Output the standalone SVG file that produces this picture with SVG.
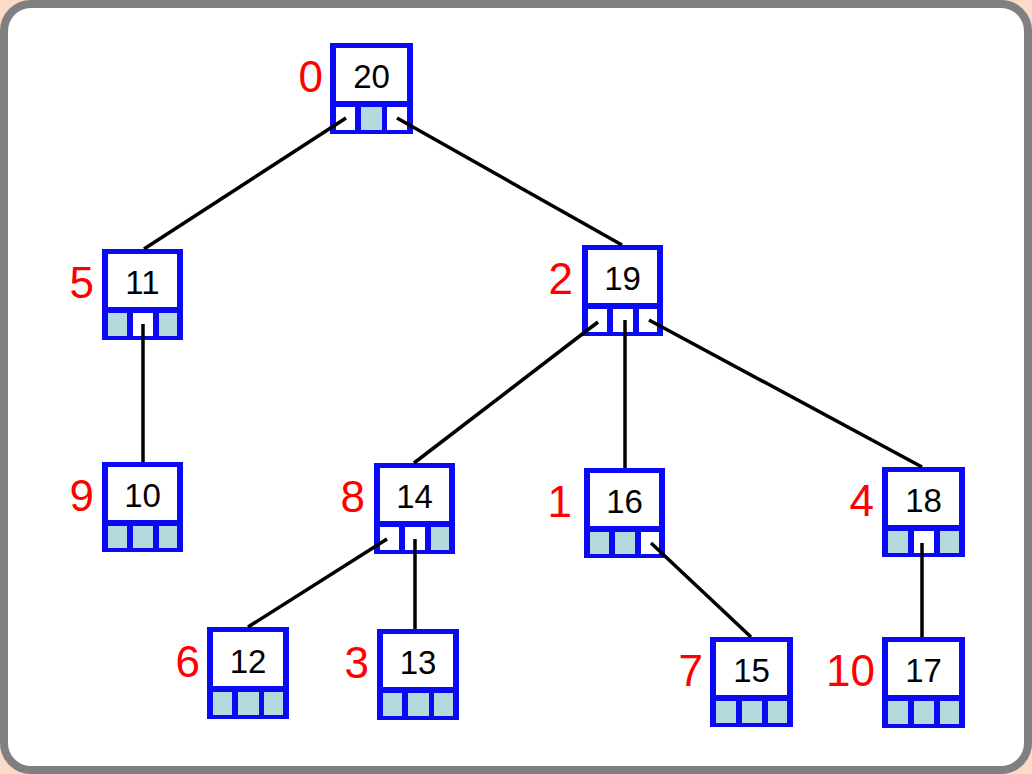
<svg xmlns="http://www.w3.org/2000/svg" width="1032" height="774" viewBox="0 0 1032 774">
<style>
.frame{fill:#ffffff;stroke:#808080;stroke-width:8}
.box{fill:#0a0af5}
.top{fill:#ffffff}
.on{fill:#b5d9dc}
.off{fill:#ffffff}
.num{font-family:"Liberation Sans",Arial,sans-serif;font-size:33px;fill:#000;text-anchor:middle}
.lbl{font-family:"Liberation Sans",Arial,sans-serif;font-size:44px;fill:#ff0000;text-anchor:end}
#edges line{stroke:#000;stroke-width:3.5;stroke-linecap:butt}
</style>
<rect x="0" y="0" width="1032" height="774" fill="#fbdac8"/>
<rect class="frame" x="4" y="4" width="1024" height="766" rx="27"/>
<g id="n20" transform="translate(330,43)">
<rect class="box" width="83" height="91"/><rect class="top" x="6" y="5" width="71" height="53"/>
<rect class="off" x="6" y="64" width="19" height="23"/><rect class="on" x="31" y="64" width="21" height="23"/><rect class="off" x="57" y="64" width="20" height="23"/>
<text class="num" x="41.5" y="45">20</text><text class="lbl" x="-7" y="49">0</text>
</g>
<g id="n11" transform="translate(102,249)">
<rect class="box" width="81" height="91"/><rect class="top" x="6" y="5" width="69" height="53"/>
<rect class="on" x="6" y="64" width="19" height="23"/><rect class="off" x="31" y="64" width="20" height="23"/><rect class="on" x="57" y="64" width="18" height="23"/>
<text class="num" x="40.5" y="45">11</text><text class="lbl" x="-8" y="49">5</text>
</g>
<g id="n19" transform="translate(582,245)">
<rect class="box" width="81" height="91"/><rect class="top" x="6" y="5" width="69" height="53"/>
<rect class="off" x="6" y="64" width="19" height="23"/><rect class="off" x="31" y="64" width="20" height="23"/><rect class="off" x="57" y="64" width="18" height="23"/>
<text class="num" x="40.5" y="45">19</text><text class="lbl" x="-9" y="49">2</text>
</g>
<g id="n10" transform="translate(102,462)">
<rect class="box" width="81" height="90"/><rect class="top" x="6" y="5" width="69" height="53"/>
<rect class="on" x="6" y="64" width="19" height="22"/><rect class="on" x="31" y="64" width="20" height="22"/><rect class="on" x="57" y="64" width="18" height="22"/>
<text class="num" x="40.5" y="45">10</text><text class="lbl" x="-8" y="49">9</text>
</g>
<g id="n14" transform="translate(374,463)">
<rect class="box" width="81" height="91"/><rect class="top" x="6" y="5" width="69" height="53"/>
<rect class="off" x="6" y="64" width="19" height="23"/><rect class="off" x="31" y="64" width="20" height="23"/><rect class="on" x="57" y="64" width="18" height="23"/>
<text class="num" x="40.5" y="45">14</text><text class="lbl" x="-9" y="49">8</text>
</g>
<g id="n16" transform="translate(584,468)">
<rect class="box" width="81" height="90"/><rect class="top" x="6" y="5" width="69" height="53"/>
<rect class="on" x="6" y="64" width="19" height="22"/><rect class="on" x="31" y="64" width="20" height="22"/><rect class="off" x="57" y="64" width="18" height="22"/>
<text class="num" x="40.5" y="45">16</text><text class="lbl" x="-12" y="49">1</text>
</g>
<g id="n18" transform="translate(882,467)">
<rect class="box" width="83" height="90"/><rect class="top" x="6" y="5" width="71" height="53"/>
<rect class="on" x="6" y="64" width="20" height="22"/><rect class="off" x="32" y="64" width="20" height="22"/><rect class="on" x="58" y="64" width="19" height="22"/>
<text class="num" x="41.5" y="45">18</text><text class="lbl" x="-8" y="49">4</text>
</g>
<g id="n12" transform="translate(207,627)">
<rect class="box" width="82" height="92"/><rect class="top" x="6" y="5" width="70" height="54"/>
<rect class="on" x="6" y="65" width="19" height="23"/><rect class="on" x="31" y="65" width="21" height="23"/><rect class="on" x="57" y="65" width="19" height="23"/>
<text class="num" x="41" y="46">12</text><text class="lbl" x="-7" y="50">6</text>
</g>
<g id="n13" transform="translate(377,629)">
<rect class="box" width="82" height="91"/><rect class="top" x="6" y="5" width="70" height="53"/>
<rect class="on" x="6" y="64" width="19" height="23"/><rect class="on" x="31" y="64" width="21" height="23"/><rect class="on" x="57" y="64" width="19" height="23"/>
<text class="num" x="41" y="45">13</text><text class="lbl" x="-8" y="49">3</text>
</g>
<g id="n15" transform="translate(710,637)">
<rect class="box" width="83" height="90"/><rect class="top" x="6" y="5" width="71" height="53"/>
<rect class="on" x="6" y="64" width="20" height="22"/><rect class="on" x="32" y="64" width="20" height="22"/><rect class="on" x="58" y="64" width="19" height="22"/>
<text class="num" x="41.5" y="45">15</text><text class="lbl" x="-7" y="49">7</text>
</g>
<g id="n17" transform="translate(882,637)">
<rect class="box" width="83" height="91"/><rect class="top" x="6" y="5" width="71" height="53"/>
<rect class="on" x="6" y="64" width="20" height="23"/><rect class="on" x="32" y="64" width="20" height="23"/><rect class="on" x="58" y="64" width="19" height="23"/>
<text class="num" x="41.5" y="45">17</text><text class="lbl" x="-7" y="49">10</text>
</g>
<g id="edges">
<line x1="346" y1="118" x2="144" y2="249"/>
<line x1="397" y1="118" x2="622" y2="245"/>
<line x1="143" y1="324" x2="143" y2="462"/>
<line x1="598" y1="322" x2="414" y2="463"/>
<line x1="625" y1="320" x2="625" y2="468"/>
<line x1="649" y1="320" x2="922" y2="467"/>
<line x1="387" y1="539" x2="248" y2="627"/>
<line x1="415" y1="539" x2="415" y2="629"/>
<line x1="651" y1="543" x2="751" y2="637"/>
<line x1="922" y1="543" x2="922" y2="637"/>
</g>
</svg>
